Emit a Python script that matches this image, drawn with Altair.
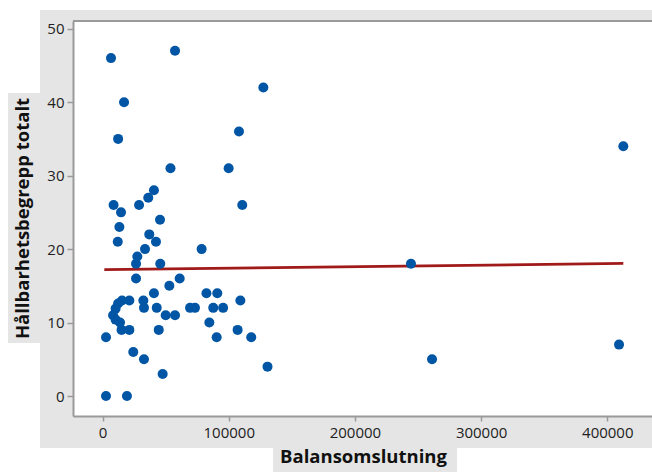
import altair as alt
import pandas as pd

# Data
balansomslutning = [
    6650, 57400, 17000, 127400, 12300, 108100, 53800, 99900, 8700, 14600,
    28900, 36200, 40700, 110700, 13300, 45500, 37000, 12000, 42300, 33600,
    27500, 26500, 45700, 78500, 26500, 61100, 52900, 40700, 82300, 90900,
    15400, 21200, 32300, 109200, 12300, 32800, 42900, 69300, 73200, 87700,
    95500, 10300, 8300, 50000, 57400, 84600, 10300, 13800, 2700, 15000,
    21200, 44500, 107000, 90400, 117800, 24300, 32800, 47600, 130700, 2700,
    19300, 244400, 261100, 409300, 412700,
]
hallbarhet = [
    46, 47, 40, 42, 35, 36, 31, 31, 26, 25,
    26, 27, 28, 26, 23, 24, 22, 21, 21, 20,
    19, 18, 18, 20, 16, 16, 15, 14, 14, 14,
    13, 13, 13, 13, 12.6, 12, 12, 12, 12, 12,
    12, 11.9, 11, 11, 11, 10, 10.4, 10, 8, 9,
    9, 9, 9, 8, 8, 6, 5, 3, 4, 0,
    0, 18, 5, 7, 34,
]
fit_x = [1350, 412700]
fit_y = [17.2, 18.05]

x_ticks = [0, 100000, 200000, 300000, 400000]
y_ticks = [0, 10, 20, 30, 40, 50]

points = pd.DataFrame({"Balansomslutning": balansomslutning, "Hallbarhet": hallbarhet})
fit = pd.DataFrame({"Balansomslutning": fit_x, "Hallbarhet": fit_y})

W, H = 579, 395
GRAY = "#e5e5e5"
AX = "#9a9a9a"
FONT = "Open Sans"

xscale = alt.Scale(domain=[-23460, 435440], nice=False, zero=False)
yscale = alt.Scale(domain=[-2.72, 51.05], nice=False, zero=False)

one = alt.Data(values=[{"k": 1}])

def box(x1, x2, y1, y2, color):
    return alt.Chart(one).mark_rect(color=color).encode(
        x=alt.value(x1), x2=alt.value(x2), y=alt.value(y1), y2=alt.value(y2)
    )

bg_main = box(-33, W, -11, 427, GRAY)
bg_ytitle = box(-65, -33, 72, 322, GRAY)
bg_xtitle = box(200, 384, 427, 451, GRAY)
plot_white = box(0, W, 0, H, "white")
top_border = alt.Chart(one).mark_rule(color=AX, strokeWidth=2).encode(
    x=alt.value(0), x2=alt.value(W), y=alt.value(0)
)

xaxis = alt.Axis(
    values=x_ticks, format="d", grid=False, zindex=1,
    labelFont=FONT, labelFontSize=15, labelColor="#222", labelPadding=4,
    tickColor=AX, tickSize=5, tickWidth=1.5, domainColor=AX, domainWidth=2,
    title="Balansomslutning", titleFont=FONT, titleFontSize=18.5,
    titleFontWeight="bold", titleColor="#111", titleX=290, titleY=46,
    titleBaseline="alphabetic", titleAlign="center",
)
yaxis = alt.Axis(
    values=y_ticks, grid=False, zindex=1,
    labelFont=FONT, labelFontSize=15, labelColor="#222", labelPadding=3,
    tickColor=AX, tickSize=6, tickWidth=1.5, domainColor=AX, domainWidth=2,
    title="Hållbarhetsbegrepp totalt", titleFont=FONT, titleFontSize=18.5,
    titleFontWeight="bold", titleColor="#111", titleAngle=270,
    titleX=-51, titleY=197, titleBaseline="middle", titleAlign="center",
)

line = alt.Chart(fit).mark_line(color="#a01a1a", strokeWidth=2.8).encode(
    x=alt.X("Balansomslutning:Q", scale=xscale, axis=xaxis),
    y=alt.Y("Hallbarhet:Q", scale=yscale, axis=yaxis),
)
dots = alt.Chart(points).mark_circle(color="#0055a4", opacity=1, size=100).encode(
    x=alt.X("Balansomslutning:Q", scale=xscale),
    y=alt.Y("Hallbarhet:Q", scale=yscale),
)

chart = alt.layer(
    bg_main, bg_ytitle, bg_xtitle, plot_white, top_border, line, dots
).properties(
    width=W, height=H,
    autosize=alt.AutoSizeParams(type="none"),
    padding={"left": 73, "top": 21, "right": 0, "bottom": 56},
    background="white",
).configure_view(stroke=None)

chart.save("out.html", embed_options={"renderer": "svg", "actions": False})
